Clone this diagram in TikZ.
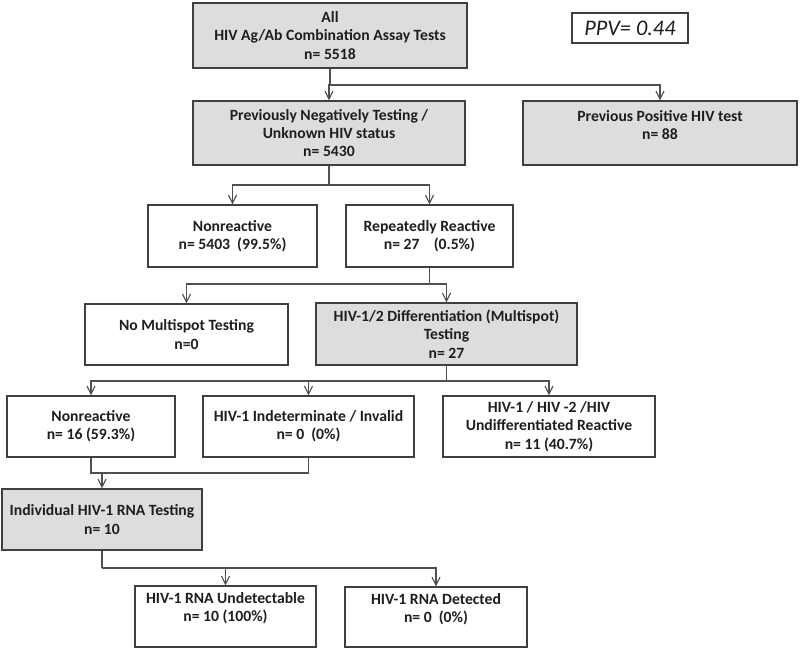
\documentclass[tikz,border=0pt]{standalone}
\usepackage{fontspec}
\setmainfont{Carlito}
\usetikzlibrary{arrows.meta}
\definecolor{boxline}{HTML}{404040}
\definecolor{boxfill}{HTML}{DDDDDD}
\definecolor{txt}{HTML}{1E1E1E}
\definecolor{conncol}{HTML}{505050}
\begin{document}
\begin{tikzpicture}[x=0.75pt,y=-0.75pt,
  boxtext/.style={align=center,text=txt,font=\fontsize{11.75}{13.7}\selectfont\bfseries,inner sep=0pt},
  box/.style={boxtext,draw=boxline,line width=1.1pt,fill=white,rectangle},
  graybox/.style={box,fill=boxfill},
  conn/.style={draw=conncol,line width=1pt},
  arr/.style={conn,-{Straight Barb[length=6pt,width=6pt,line width=0.8pt]}}]
\useasboundingbox (0,0) rectangle (800,651);
% boxes
\node[graybox,minimum width=205.5pt,minimum height=48.75pt] (b1) at (330,35.5)
  {All\\HIV Ag/Ab Combination Assay Tests\\n= 5518};
\node[draw=boxline,line width=0.9pt,fill=white,text=txt,minimum width=87pt,minimum height=22.5pt,inner sep=0pt,
  font=\fontsize{16.7}{18}\selectfont\itshape] (ppv) at (630,28) {PPV= 0.44};
\node[graybox,minimum width=204pt,minimum height=48pt] (b2) at (329,133)
  {Previously Negatively Testing /\\Unknown HIV status\\n= 5430};
\node[graybox,minimum width=205.5pt,minimum height=48pt] (pos) at (660,133) {};
\node[boxtext] (posT) at ([yshift=6pt]pos.center) {Previous Positive HIV test\\n= 88};
\node[box,minimum width=126.75pt,minimum height=46.5pt] (nr1) at (232.5,236)
  {Nonreactive\\n= 5403~ (99.5\%)};
\node[box,minimum width=125.25pt,minimum height=46.5pt] (rr) at (429.5,236)
  {Repeatedly Reactive\\n= 27 ~~ (0.5\%)};
\node[box,minimum width=152.25pt,minimum height=45.75pt] (nomulti) at (186.5,334.5)
  {No Multispot Testing\\n=0};
\node[graybox,minimum width=195.75pt,minimum height=46.5pt] (diff) at (446.5,334)
  {HIV-1/2 Differentiation (Multispot)\\Testing\\n= 27};
\node[box,minimum width=126pt,minimum height=45.75pt] (nr2) at (91,426.5)
  {Nonreactive\\n= 16 (59.3\%)};
\node[box,minimum width=158.25pt,minimum height=45.75pt] (ind) at (308.5,426.5)
  {HIV-1 Indeterminate / Invalid\\n= 0~ (0\%)};
\node[box,minimum width=159pt,minimum height=45.75pt] (undiff) at (549,426.5)
  {HIV-1 / HIV -2 /HIV\\Undifferentiated Reactive\\n= 11 (40.7\%)};
\node[graybox,minimum width=150pt,minimum height=45.75pt] (rna) at (102,519.5)
  {Individual HIV-1 RNA Testing\\n= 10};
\node[box,minimum width=135.75pt,minimum height=45.75pt] (undet) at (225.5,616.5) {};
\node[boxtext] (undetT) at ([yshift=6pt]undet.center) {HIV-1 RNA Undetectable\\n= 10 (100\%)};
\node[box,minimum width=136.5pt,minimum height=45pt] (det) at (436,617) {};
\node[boxtext] (detT) at ([yshift=6pt]det.center) {HIV-1 RNA Detected\\n= 0~ (0\%)};
% junctions
\coordinate (j1) at (330,85);
\coordinate (j2) at (329,185);
\coordinate (j3) at (429.5,284);
\coordinate (j4) at (446.5,381);
\coordinate (m1) at (91,473);
\coordinate (m2) at (308.5,473);
\coordinate (m3) at (102,473);
\coordinate (j6) at (102,568);
% connectors
\draw[conn] (b1.south) -- (j1);
\draw[arr] (j1) -| (b2.north);
\draw[arr] (j1) -| (pos.north);
\draw[conn] (b2.south) -- (j2);
\draw[arr] (j2) -| (nr1.north);
\draw[arr] (j2) -| (rr.north);
\draw[conn] (rr.south) -- (j3);
\draw[arr] (j3) -| (nomulti.north);
\draw[arr] (j3) -| (diff.north);
\draw[conn] (diff.south) -- (j4);
\draw[arr] (j4) -| (nr2.north);
\draw[arr] (j4) -| (ind.north);
\draw[arr] (j4) -| (undiff.north);
\draw[conn] (nr2.south) -- (m1) -- (m2) -- (ind.south);
\draw[arr] (m3) -- (rna.north);
\draw[conn] (rna.south) -- (j6);
\draw[arr] (j6) -| (undet.north);
\draw[arr] (j6) -| (det.north);
\end{tikzpicture}
\end{document}
